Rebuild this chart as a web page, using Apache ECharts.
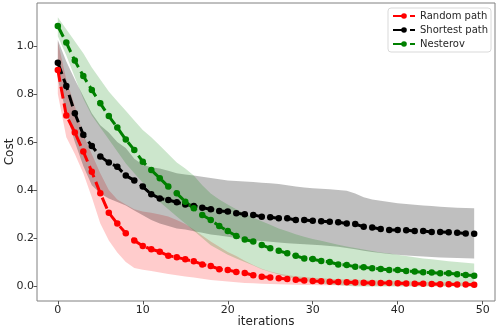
<!DOCTYPE html>
<html>
<head>
<meta charset="utf-8">
<script src="https://cdn.jsdelivr.net/npm/echarts@6/dist/echarts.min.js"></script>
<style>
  html, body { margin: 0; padding: 0; background: #fff; }
  #chart { width: 499px; height: 332px; }
</style>
</head>
<body>
<div id="chart"></div>
<script>
// iteration index
const iterations = [0, 1, 2, 3, 4, 5, 6, 7, 8, 9, 10, 11, 12, 13, 14, 15, 16, 17, 18, 19,
  20, 21, 22, 23, 24, 25, 26, 27, 28, 29, 30, 31, 32, 33, 34, 35, 36, 37, 38, 39,
  40, 41, 42, 43, 44, 45, 46, 47, 48, 49];

// Random path
const randomMean = [0.90, 0.71, 0.64, 0.56, 0.476, 0.386, 0.305, 0.26, 0.22, 0.19,
  0.167, 0.153, 0.143, 0.126, 0.12, 0.111, 0.103, 0.09, 0.083, 0.07,
  0.067, 0.058, 0.054, 0.045, 0.039, 0.035, 0.032, 0.029, 0.026, 0.023,
  0.021, 0.02, 0.018, 0.017, 0.016, 0.015, 0.014, 0.013, 0.012, 0.012,
  0.011, 0.010, 0.009, 0.009, 0.008, 0.007, 0.007, 0.006, 0.006, 0.005];
const randomLow = [0.80, 0.62, 0.55, 0.47, 0.37, 0.26, 0.19, 0.14, 0.10, 0.075,
  0.068, 0.062, 0.056, 0.05, 0.045, 0.04, 0.035, 0.03, 0.025, 0.022,
  0.019, 0.016, 0.013, 0.011, 0.009, 0.008, 0.007, 0.006, 0.005, 0.0045,
  0.004, 0.0035, 0.003, 0.0028, 0.0025, 0.002, 0.0018, 0.0016, 0.0014, 0.0012,
  0.001, 0.001, 0.0008, 0.0007, 0.0006, 0.0005, 0.0004, 0.0003, 0.0002, 0.0001];
const randomHigh = [1.02, 0.86, 0.75, 0.63, 0.55, 0.47, 0.40, 0.36, 0.34, 0.32,
  0.31, 0.305, 0.298, 0.29, 0.275, 0.258, 0.235, 0.21, 0.185, 0.163,
  0.142, 0.125, 0.105, 0.088, 0.072, 0.06, 0.052, 0.046, 0.041, 0.037,
  0.034, 0.032, 0.03, 0.028, 0.027, 0.026, 0.025, 0.024, 0.023, 0.022,
  0.021, 0.02, 0.019, 0.018, 0.017, 0.016, 0.015, 0.015, 0.014, 0.013];

// Shortest path
const shortestMean = [0.93, 0.833, 0.72, 0.63, 0.583, 0.54, 0.514, 0.497, 0.46, 0.44,
  0.414, 0.382, 0.365, 0.358, 0.349, 0.34, 0.333, 0.326, 0.32, 0.3125,
  0.31, 0.303, 0.299, 0.296, 0.289, 0.286, 0.282, 0.282, 0.275, 0.275,
  0.272, 0.27, 0.268, 0.266, 0.26, 0.258, 0.247, 0.244, 0.2375, 0.233,
  0.233, 0.232, 0.229, 0.229, 0.225, 0.225, 0.224, 0.222, 0.219, 0.218];
const shortestLow = [0.86, 0.72, 0.60, 0.50, 0.42, 0.385, 0.365, 0.35, 0.335, 0.315,
  0.295, 0.275, 0.26, 0.25, 0.24, 0.235, 0.228, 0.222, 0.215, 0.21,
  0.205, 0.2, 0.195, 0.19, 0.187, 0.184, 0.181, 0.178, 0.176, 0.174,
  0.172, 0.17, 0.167, 0.163, 0.158, 0.153, 0.147, 0.142, 0.137, 0.133,
  0.13, 0.127, 0.125, 0.123, 0.121, 0.119, 0.118, 0.117, 0.116, 0.115];
const shortestHigh = [1.025, 0.935, 0.86, 0.79, 0.72, 0.67, 0.64, 0.60, 0.575, 0.53,
  0.505, 0.495, 0.49, 0.48, 0.47, 0.465, 0.46, 0.455, 0.45, 0.445,
  0.44, 0.437, 0.435, 0.433, 0.43, 0.428, 0.425, 0.42, 0.415, 0.41,
  0.407, 0.405, 0.403, 0.40, 0.397, 0.385, 0.37, 0.36, 0.355, 0.35,
  0.345, 0.342, 0.338, 0.335, 0.333, 0.33, 0.328, 0.326, 0.325, 0.324];

// Nesterov
const nesterovMean = [1.083, 1.014, 0.939, 0.875, 0.817, 0.761, 0.708, 0.66, 0.61, 0.567,
  0.518, 0.483, 0.449, 0.414, 0.386, 0.351, 0.324, 0.296, 0.275, 0.25,
  0.229, 0.208, 0.194, 0.185, 0.171, 0.157, 0.147, 0.136, 0.126, 0.115,
  0.112, 0.104, 0.1, 0.09, 0.0875, 0.08, 0.078, 0.074, 0.071, 0.067,
  0.067, 0.0625, 0.06, 0.057, 0.056, 0.053, 0.053, 0.049, 0.046, 0.043];
const nesterovLow = [1.04, 0.96, 0.87, 0.78, 0.71, 0.66, 0.61, 0.56, 0.51, 0.47,
  0.43, 0.39, 0.35, 0.32, 0.29, 0.26, 0.23, 0.2, 0.17, 0.15,
  0.13, 0.115, 0.10, 0.085, 0.07, 0.058, 0.048, 0.038, 0.03, 0.022,
  0.015, 0.01, 0.006, 0.003, 0.001, -0.002, -0.002, -0.002, -0.002, -0.002,
  -0.002, -0.002, -0.002, -0.002, -0.002, -0.002, -0.002, -0.002, -0.002, -0.002];
const nesterovHigh = [1.12, 1.07, 1.02, 0.97, 0.91, 0.86, 0.81, 0.77, 0.73, 0.69,
  0.65, 0.62, 0.585, 0.55, 0.515, 0.49, 0.46, 0.42, 0.385, 0.36,
  0.34, 0.32, 0.303, 0.285, 0.27, 0.255, 0.24, 0.228, 0.216, 0.205,
  0.196, 0.188, 0.18, 0.172, 0.165, 0.158, 0.152, 0.146, 0.14, 0.135,
  0.13, 0.125, 0.12, 0.115, 0.111, 0.107, 0.103, 0.1, 0.097, 0.094];

const xTicks = [0, 10, 20, 30, 40, 50];
const yTicks = [0, 0.2, 0.4, 0.6, 0.8, 1.0];

const pairs = (ys) => iterations.map((x, i) => [x, ys[i]]);

// filled band between lo and hi, drawn once as a polygon through the axes
function band(lo, hi, fill) {
  return {
    type: "custom", silent: true, z: 1,
    data: iterations.map((x, i) => [x, lo[i], hi[i]]),
    encode: { x: 0, y: [1, 2] },
    renderItem: (params, api) => {
      if (params.dataIndex !== 0) return;
      const pts = [];
      iterations.forEach((x, i) => pts.push(api.coord([x, hi[i]])));
      for (let i = iterations.length - 1; i >= 0; i--) {
        pts.push(api.coord([iterations[i], lo[i]]));
      }
      return { type: "polygon", shape: { points: pts }, style: { fill: fill } };
    },
  };
}

function meanLine(name, ys, color) {
  return {
    name: name, type: "line", data: pairs(ys), z: 5,
    symbol: "circle", symbolSize: 6.5, showSymbol: true,
    itemStyle: { color: color },
    lineStyle: { color: color, width: 3, type: [12, 5] },
  };
}

const chart = echarts.init(document.getElementById("chart"));

const axisFont = { fontFamily: "DejaVu Sans", fontSize: 11, color: "#262626" };
const nameFont = { fontFamily: "DejaVu Sans", fontSize: 12, color: "#262626" };

const option = {
  animation: false,
  grid: {
    left: 37, right: 4, top: 3, bottom: 31,
    outerBoundsMode: "none",
    containLabel: false,
    show: true, borderColor: "#808080", borderWidth: 1, backgroundColor: "transparent",
  },
  legend: {
    orient: "vertical",
    left: 388, top: 8,
    itemWidth: 22, itemHeight: 7, itemGap: 4,
    padding: [3, 3, 3, 4],
    borderColor: "#d9d9d9", borderWidth: 1, borderRadius: 3,
    backgroundColor: "rgba(255,255,255,0.8)",
    textStyle: { fontFamily: "DejaVu Sans", fontSize: 10, color: "#262626" },
    data: ["Random path", "Shortest path", "Nesterov"],
  },
  xAxis: {
    type: "value", min: -2.45, max: 51.45,
    name: "iterations", nameLocation: "middle", nameGap: 15, nameMoveOverlap: false,
    nameTextStyle: nameFont,
    axisLine: { show: false, onZero: false },
    splitLine: { show: false },
    axisTick: { show: true, inside: false, length: 3.5, customValues: xTicks, lineStyle: { color: "#555" } },
    axisLabel: Object.assign({ margin: 4, customValues: xTicks }, axisFont),
  },
  yAxis: {
    type: "value", min: -0.0625, max: 1.179,
    name: "Cost", nameLocation: "middle", nameGap: 21, nameMoveOverlap: false,
    nameTextStyle: nameFont,
    axisLine: { show: false, onZero: false },
    splitLine: { show: false },
    axisTick: { show: true, inside: false, length: 3.5, customValues: yTicks, lineStyle: { color: "#555" } },
    axisLabel: Object.assign({
      margin: 3, customValues: yTicks,
      formatter: (v) => v.toFixed(1),
    }, axisFont),
  },
  series: [
    band(randomLow, randomHigh, "rgba(255,0,0,0.2)"),
    band(shortestLow, shortestHigh, "rgba(0,0,0,0.25)"),
    band(nesterovLow, nesterovHigh, "rgba(0,128,0,0.2)"),
    meanLine("Random path", randomMean, "#ff0000"),
    meanLine("Shortest path", shortestMean, "#000000"),
    meanLine("Nesterov", nesterovMean, "#008000"),
  ],
};

chart.setOption(option);
</script>
</body>
</html>
